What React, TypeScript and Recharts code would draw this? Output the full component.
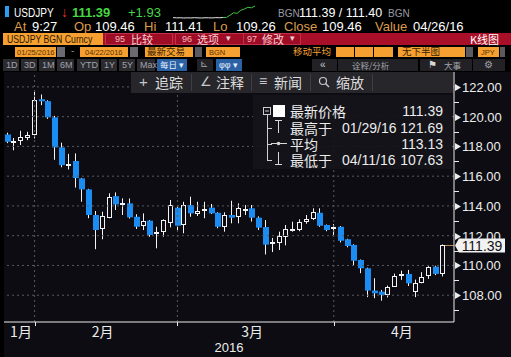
import React from 'react';
import { ComposedChart, Bar, XAxis, YAxis, ReferenceLine, LineChart, Line } from 'recharts';

// daily USDJPY candles, 01/25/2016 - 04/22/2016
const dates = [
    '01/25', '01/26', '01/27', '01/28', '01/29',
    '02/01', '02/02', '02/03', '02/04', '02/05', '02/08', '02/09', '02/10', '02/11', '02/12',
    '02/15', '02/16', '02/17', '02/18', '02/19', '02/22', '02/23', '02/24', '02/25', '02/26', '02/29',
    '03/01', '03/02', '03/03', '03/04', '03/07', '03/08', '03/09', '03/10', '03/11', '03/14', '03/15',
    '03/16', '03/17', '03/18', '03/21', '03/22', '03/23', '03/24', '03/25', '03/28', '03/29', '03/30', '03/31',
    '04/01', '04/04', '04/05', '04/06', '04/07', '04/08', '04/11', '04/12', '04/13', '04/14', '04/15',
    '04/18', '04/19', '04/20', '04/21', '04/22',
];
const opens = [
    118.80, 118.30, 118.38, 118.58, 118.80,
    121.17, 121.04, 119.95, 117.93, 116.78, 117.02, 115.85, 115.11, 113.39, 112.45,
    113.21, 114.66, 114.12, 114.17, 113.27, 112.67, 113.01, 112.11, 112.23, 112.85, 113.88,
    112.72, 114.06, 113.46, 113.68, 113.88, 113.54, 112.60, 113.39, 113.21, 113.74, 113.84,
    113.21, 112.58, 111.42, 111.45, 111.93, 112.42, 112.40, 112.87, 113.17, 113.54, 112.72, 112.43,
    112.60, 111.76, 111.38, 110.37, 109.81, 108.31, 108.24, 108.02, 108.58, 109.30, 109.43,
    108.24, 108.85, 109.25, 109.92, 109.46,
];
const highs = [
    118.92, 118.56, 119.05, 118.98, 121.69,
    121.49, 121.10, 120.05, 118.25, 117.50, 117.53, 115.88, 115.15, 113.66, 113.61,
    114.85, 114.91, 114.51, 114.50, 113.44, 113.50, 113.05, 112.60, 113.10, 114.40, 114.00,
    114.28, 114.62, 114.28, 114.28, 114.13, 113.58, 113.57, 114.35, 114.17, 114.06, 114.06,
    113.30, 113.05, 111.85, 112.27, 112.72, 112.94, 113.10, 113.39, 113.84, 113.84, 112.75, 112.78,
    112.65, 111.80, 111.42, 110.40, 109.85, 109.14, 108.35, 108.65, 109.45, 109.65, 109.70,
    109.05, 109.55, 109.95, 109.98, 111.41,
];
const lows = [
    118.22, 117.74, 118.09, 118.42, 118.54,
    120.77, 119.85, 117.10, 116.60, 116.45, 115.23, 114.28, 113.17, 111.09, 111.76,
    113.17, 113.73, 113.39, 113.15, 112.45, 112.38, 111.93, 111.15, 111.93, 112.56, 112.38,
    112.16, 113.27, 113.32, 113.17, 113.45, 112.50, 112.27, 112.83, 112.83, 113.39, 112.95,
    112.38, 110.74, 110.90, 111.04, 111.35, 112.27, 112.30, 112.80, 113.05, 112.60, 112.30, 112.05,
    111.55, 111.22, 109.97, 109.48, 107.87, 107.80, 107.63, 107.85, 108.55, 109.03, 108.62,
    107.87, 108.80, 109.10, 109.35, 109.26,
];
const closes = [
    118.31, 118.36, 118.64, 118.80, 121.15,
    121.03, 119.95, 117.93, 116.74, 116.84, 115.87, 115.11, 113.39, 112.38, 113.32,
    114.62, 114.10, 114.20, 113.23, 112.60, 112.99, 112.05, 112.27, 113.05, 114.06, 112.67,
    114.06, 113.50, 113.68, 113.77, 113.50, 112.60, 113.39, 113.21, 113.84, 113.80, 113.21,
    112.54, 111.40, 111.56, 111.95, 112.45, 112.47, 112.92, 113.10, 113.61, 112.67, 112.38, 112.56,
    111.66, 111.31, 110.32, 109.81, 108.31, 108.13, 108.02, 108.58, 109.32, 109.43, 108.80,
    108.85, 109.25, 109.88, 109.43, 111.39,
];

const yTicks = [107, 108, 109, 110, 111, 112, 113, 114, 115, 116, 117, 118, 119, 120, 121, 122];
const gridValues = [108, 110, 112, 114, 116, 118, 120, 122];
const monthEnds = ['01/29', '02/29', '03/31'];
const labelDates = ['01/27', '02/12', '03/15', '04/14'];
const monthLabels = ['1月', '2月', '3月', '4月'];
const lastPrice = 111.39;

// intraday sparkline in the header
const sparkFlat = [109.50, 109.46, 109.48, 109.44, 109.47, 109.45, 109.49, 109.46, 109.44, 109.48, 109.47, 109.45, 109.50, 109.48, 109.52];
const sparkRise = [109.52, 109.9, 110.3, 110.2, 110.7, 110.9, 111.2, 111.1, 111.4];

const legendRows = [
    { name: '最新价格', date: '', value: '111.39' },
    { name: '最高于', date: '01/29/16', value: '121.69' },
    { name: '平均', date: '', value: '113.13' },
    { name: '最低于', date: '04/11/16', value: '107.63' },
];

const data = dates.map((date, i) => ({
    date,
    open: opens[i],
    high: highs[i],
    low: lows[i],
    close: closes[i],
    range: [lows[i], highs[i]],
}));

const sparkData = [
    ...sparkFlat.map(v => ({ w: v, g: null as number | null })),
    ...sparkRise.map(v => ({ w: null as number | null, g: v })),
];
sparkData[sparkFlat.length - 1].g = sparkFlat[sparkFlat.length - 1];

const W = 511;
const H = 357;
const BLUE = '#1b8cf2';
const GRID = '#5a5a62';
const AXIS = '#ececec';
const ORANGE = '#f5a030';
const TAN = '#dc9c4c';
const SANS = '"Liberation Sans", Arial, sans-serif';
const CJK = '"Noto Sans CJK SC", "Liberation Sans", sans-serif';

function Candle(props: any) {
    const { x, y, width, height, payload } = props;
    if (!payload || height == null) return null;
    const { open, close, high, low } = payload;
    const k = height / (high - low);
    const py = (v: number) => y + (high - v) * k;
    const c = Math.floor(x + width / 2);
    const top = py(Math.max(open, close));
    const bot = py(Math.min(open, close));
    const up = close >= open;
    return (
        <g>
            <line x1={c + 0.5} x2={c + 0.5} y1={y} y2={y + height} stroke="#f4f4f4" strokeWidth={1} />
            {up ? (
                <rect x={c - 1.5} y={Math.round(top) + 0.5} width={4} height={Math.max(1, Math.round(bot - top) - 1)}
                    fill="#0c0c12" stroke="#f4f4f4" strokeWidth={1} />
            ) : (
                <rect x={c - 2} y={top} width={6} height={Math.max(1.5, bot - top)} fill={BLUE} />
            )}
        </g>
    );
}

function PriceTick(props: any) {
    const { x, y, payload } = props;
    const v = payload.value as number;
    const yy = Math.round(y) + 0.5;
    if (v % 2 !== 0) return <line x1={x} x2={x + 5} y1={yy} y2={yy} stroke={AXIS} />;
    return (
        <g>
            <path d={`M${x + 1},${yy - 3.5} L${x + 7},${yy} L${x + 1},${yy + 3.5} Z`} fill={AXIS} />
            <text x={x + 8} y={yy} dy="0.36em" fill={AXIS} fontSize={13} fontFamily={SANS}>{v.toFixed(2)}</text>
        </g>
    );
}

function MonthTick(props: any) {
    const { x, y, payload } = props;
    const xx = Math.round(x) + 0.5;
    if (monthEnds.includes(payload.value)) {
        return <line x1={xx} x2={xx} y1={y} y2={y + 4} stroke={AXIS} />;
    }
    const label = monthLabels[labelDates.indexOf(payload.value)];
    return <text x={x} y={y + 15} textAnchor="middle" fill={AXIS} fontSize={14} fontFamily={CJK}>{label}</text>;
}

function PriceFlag(props: any) {
    const { x1, x2, y1 } = props;
    const r = Math.max(x1, x2);
    const y = Math.round(y1) + 0.5;
    return (
        <g>
            <line x1={r - 9} x2={r} y1={y} y2={y} stroke="#b88a55" />
            <path d={`M${r + 1},${y} L${r + 5},${y - 7} L${r + 51},${y - 7} L${r + 51},${y + 7} L${r + 5},${y + 7} Z`}
                fill="#f2f2f2" />
            <text x={r + 28} y={y} dy="0.36em" textAnchor="middle" fill="#111" fontSize={14} fontFamily={SANS}>
                {lastPrice.toFixed(2)}
            </text>
        </g>
    );
}

type TxtProps = { x: number; y: number; s?: number; c?: string; f?: string; b?: boolean; sx?: number; children: React.ReactNode };
const Txt = ({ x, y, s = 13, c = '#fff', f = SANS, b, sx, children }: TxtProps) => (
    <span style={{
        position: 'absolute', left: x, top: y, fontSize: s, color: c, fontFamily: f, fontWeight: b ? 700 : 400,
        lineHeight: 1, whiteSpace: 'nowrap', transform: sx ? `scaleX(${sx})` : undefined, transformOrigin: 'left',
    }}>{children}</span>
);

const Box = ({ x, y, w, h, bg, border }: { x: number; y: number; w: number; h: number; bg: string; border?: string }) => (
    <div style={{ position: 'absolute', left: x, top: y, width: w, height: h, background: bg, boxSizing: 'border-box', border: border ? `1px solid ${border}` : undefined }} />
);

function Header() {
    const btn = [['1D', 3, 16], ['3D', 21, 16], ['1M', 39, 16], ['6M', 57, 17], ['YTD', 77, 22], ['1Y', 101, 16], ['5Y', 119, 16], ['Max', 137, 18]] as const;
    return (
        <>
            {/* row 1 */}
            <Box x={5} y={6} w={4} h={11} bg="#2a9df4" />
            <Txt x={14} y={7} s={12} sx={0.84}>USDJPY</Txt>
            <Txt x={61} y={5} s={14} c="#e8322c">↓</Txt>
            <Txt x={72} y={6} s={13} b c="#46d646">111.39</Txt>
            <Txt x={128} y={6} s={13} c="#46d646">+1.93</Txt>
            <div style={{ position: 'absolute', left: 172, top: 5 }}>
                <LineChart width={84} height={14} data={sparkData} margin={{ top: 1, right: 1, bottom: 1, left: 1 }}>
                    <YAxis hide domain={['dataMin', 'dataMax']} />
                    <Line dataKey="w" stroke="#e8e8e8" dot={false} strokeWidth={1} isAnimationActive={false} />
                    <Line dataKey="g" stroke="#3cc83c" dot={false} strokeWidth={1} isAnimationActive={false} />
                </LineChart>
            </div>
            <Txt x={278} y={9} s={10} c="#9a9aa2">BGN</Txt>
            <Txt x={299} y={7} s={12.5}>111.39 / 111.40</Txt>
            <Txt x={388} y={9} s={10} c="#9a9aa2">BGN</Txt>

            {/* row 2 */}
            <Txt x={14} y={20} c={TAN}>At</Txt>
            <Txt x={32} y={20}>9:27</Txt>
            <Txt x={74} y={20} c={TAN}>Op</Txt>
            <Txt x={95} y={20}>109.46</Txt>
            <Txt x={144} y={20} c={TAN}>Hi</Txt>
            <Txt x={165} y={20}>111.41</Txt>
            <Txt x={213} y={20} c={TAN}>Lo</Txt>
            <Txt x={236} y={20}>109.26</Txt>
            <Txt x={284} y={20} c={TAN}>Close</Txt>
            <Txt x={322} y={20}>109.46</Txt>
            <Txt x={375} y={20} c={TAN}>Value</Txt>
            <Txt x={413} y={20}>04/26/16</Txt>

            {/* row 3 */}
            <Box x={3} y={33} w={100} h={12} bg={ORANGE} />
            <Txt x={7} y={34} s={11} c="#2a1600" sx={0.79}>USDJPY BGN Curncy</Txt>
            <Box x={103} y={33} w={408} h={12} bg="#a90f28" />
            <Box x={105} y={33} w={68} h={12} bg="#9e0d25" border="#c23048" />
            <Box x={175} y={33} w={78} h={12} bg="#9e0d25" border="#c23048" />
            <Box x={243} y={33} w={58} h={12} bg="#9e0d25" border="#c23048" />
            <Txt x={115} y={35} s={9} c="#f3b8c0">95</Txt>
            <Txt x={131} y={33.5} s={11} f={CJK} c="#f6d2d8">比较</Txt>
            <Txt x={182} y={35} s={9} c="#f3b8c0">96</Txt>
            <Txt x={197} y={33.5} s={11} f={CJK} c="#f6d2d8">选项</Txt>
            <Txt x={226} y={34} s={9} c="#f6d2d8">▾</Txt>
            <Txt x={247} y={35} s={9} c="#f3b8c0">97</Txt>
            <Txt x={262} y={33.5} s={11} f={CJK} c="#f6d2d8">修改</Txt>
            <Txt x={290} y={34} s={9} c="#f6d2d8">▾</Txt>
            <Txt x={470} y={33.5} s={11} f={CJK}>K线图</Txt>

            {/* row 4 */}
            <Box x={15} y={47} w={41} h={10} bg={ORANGE} />
            <Txt x={17} y={48.5} s={7.5} c="#5a3000">01/25/2016</Txt>
            <Box x={57} y={47} w={8} h={10} bg="#6a6a70" />
            <Txt x={71} y={46} s={10} c="#888">-</Txt>
            <Box x={80} y={47} w={48} h={10} bg={ORANGE} />
            <Txt x={85} y={48.5} s={7.5} c="#5a3000">04/22/2016</Txt>
            <Box x={130} y={47} w={8} h={10} bg="#6a6a70" />
            <Box x={145} y={47} w={48} h={10} bg={ORANGE} />
            <Txt x={147} y={47} s={9.5} f={CJK} c="#3a1e00">最新交易</Txt>
            <Box x={195} y={47} w={7} h={10} bg="#5a5a60" />
            <Box x={206} y={47} w={34} h={10} bg={ORANGE} />
            <Txt x={209} y={48.5} s={7.5} c="#5a3000">BGN</Txt>
            <Txt x={293} y={47} s={9.5} f={CJK} c={ORANGE}>移动平均</Txt>
            <Box x={336} y={47} w={18} h={10} bg={ORANGE} />
            <Box x={355} y={47} w={18} h={10} bg={ORANGE} />
            <Box x={374} y={47} w={19} h={10} bg={ORANGE} />
            <Box x={398} y={47} w={67} h={10} bg={ORANGE} />
            <Txt x={402} y={47} s={9.5} f={CJK} c="#3a1e00">无下半图</Txt>
            <Box x={466} y={47} w={7} h={10} bg="#5a5a60" />
            <Box x={478} y={47} w={21} h={10} bg={ORANGE} />
            <Txt x={481} y={48.5} s={7.5} c="#5a3000">JPY</Txt>
            <Box x={500} y={47} w={5} h={10} bg="#5a5a60" />

            {/* row 5 */}
            {btn.map(([t, x, w]) => (
                <React.Fragment key={t}>
                    <Box x={x} y={59} w={w} h={12} bg="#2a2a2f" />
                    <Txt x={x + 3} y={61} s={9} c="#a2a2aa">{t}</Txt>
                </React.Fragment>
            ))}
            <Box x={157} y={59} w={30} h={12} bg="#2b62a6" />
            <Txt x={160} y={60} s={8.5} f={CJK} c="#e6eefa">每日 ▾</Txt>
            <Box x={197} y={59} w={16} h={12} bg="#222226" />
            <Txt x={200} y={59} s={10} c="#a2a2aa">⊾</Txt>
            <Box x={216} y={59} w={26} h={12} bg="#2b62a6" />
            <Txt x={219} y={60.5} s={9} c="#e6eefa">φφ ▾</Txt>
            <Box x={312} y={59} w={25} h={12} bg="#222226" />
            <Txt x={320} y={59.5} s={10} c="#c8c8cc">«</Txt>
            <Box x={338} y={59} w={80} h={12} bg="#222226" />
            <Txt x={352} y={60.5} s={8.5} f={CJK} c="#a2a2aa">诠释/分析</Txt>
            <Box x={420} y={59} w={52} h={12} bg="#222226" />
            <Txt x={428} y={59.5} s={10} c="#d8d8d8">⚑</Txt>
            <Txt x={444} y={60.5} s={8.5} f={CJK} c="#a2a2aa">大事</Txt>
            <Box x={473} y={59} w={32} h={12} bg="#222226" />
            <Txt x={484} y={59.5} s={10} c="#a2a2aa">⚙</Txt>
        </>
    );
}

function Toolbar() {
    const seps = [191, 251, 310, 372];
    return (
        <>
            <Box x={131} y={72} w={322} h={21} bg="#26262b" />
            {seps.map(s => <Box key={s} x={s} y={74} w={1} h={17} bg="#3e3e44" />)}
            <Txt x={139} y={74} s={15} c="#c8c8cc">+</Txt>
            <Txt x={155} y={75} s={14} f={CJK} c="#dcdcdc">追踪</Txt>
            <Txt x={200} y={75} s={13} c="#c8c8cc">∠</Txt>
            <Txt x={216} y={75} s={14} f={CJK} c="#dcdcdc">注释</Txt>
            <Txt x={259} y={74} s={14} c="#c8c8cc">≡</Txt>
            <Txt x={274} y={75} s={14} f={CJK} c="#dcdcdc">新闻</Txt>
            <svg style={{ position: 'absolute', left: 318, top: 76 }} width={12} height={13}>
                <circle cx={5} cy={5} r={3.5} fill="none" stroke="#c8c8cc" strokeWidth={1.2} />
                <line x1={7.5} y1={7.5} x2={11} y2={11} stroke="#c8c8cc" strokeWidth={1.4} />
            </svg>
            <Txt x={336} y={75} s={14} f={CJK} c="#dcdcdc">缩放</Txt>
        </>
    );
}

function InfoPanel() {
    const rowY = [111, 127.5, 143.5, 159.5];
    return (
        <>
            <div style={{ position: 'absolute', left: 253, top: 95, width: 199, height: 74, background: 'rgba(20,20,25,0.94)' }} />
            <svg style={{ position: 'absolute', left: 253, top: 95 }} width={40} height={74}>
                <rect x={10.5} y={12.5} width={7} height={7} fill="none" stroke="#cfcfcf" />
                <line x1={12} x2={16} y1={16} y2={16} stroke="#cfcfcf" />
                <line x1={14.5} x2={14.5} y1={20} y2={65} stroke="#cfcfcf" />
                {rowY.slice(1).map(r => <line key={r} x1={14} x2={19} y1={Math.round(r - 95) + 0.5} y2={Math.round(r - 95) + 0.5} stroke="#cfcfcf" />)}
                <rect x={20} y={10} width={12} height={12} fill="#ffffff" />
                <line x1={22} x2={29} y1={25.5} y2={25.5} stroke="#d8d8d8" />
                <line x1={25.5} x2={25.5} y1={26} y2={38} stroke="#d8d8d8" />
                <line x1={18} x2={34} y1={48.5} y2={48.5} stroke="#d8d8d8" />
                <circle cx={25.5} cy={48.5} r={1.8} fill="#d8d8d8" />
                <line x1={25.5} x2={25.5} y1={57} y2={69} stroke="#d8d8d8" />
                <line x1={22} x2={29} y1={69.5} y2={69.5} stroke="#d8d8d8" />
            </svg>
            {legendRows.map((r, i) => (
                <React.Fragment key={r.name}>
                    <Txt x={290} y={rowY[i] - 7} s={14} f={CJK} c="#ececec">{r.name}</Txt>
                    {r.date && <Txt x={342} y={rowY[i] - 7} s={14} c="#ececec">{r.date}</Txt>}
                    <span style={{
                        position: 'absolute', left: 383, width: 60, top: rowY[i] - 7, textAlign: 'right',
                        fontSize: 14, lineHeight: 1, fontFamily: SANS, color: '#ececec',
                    }}>{r.value}</span>
                </React.Fragment>
            ))}
        </>
    );
}

export default function App() {
    return (
        <div style={{ position: 'fixed', left: 0, top: 0, width: W, height: H, background: '#000', overflow: 'hidden', fontFamily: SANS }}>
            <div style={{ position: 'absolute', left: 4, top: 72, width: W - 4, height: H - 72, background: '#0c0c12' }} />
            <div style={{ position: 'absolute', left: 0, top: 0 }}>
                <ComposedChart width={W} height={H} data={data} margin={{ top: 72, right: 0, bottom: 0, left: 4 }}>
                    <XAxis dataKey="date" ticks={[...monthEnds, ...labelDates]} interval={0} tickSize={0} tickMargin={0}
                        tickLine={false} axisLine={{ stroke: AXIS }} height={35} tick={<MonthTick />}
                        padding={{ left: 0, right: 8 }}
                        label={{ value: '2016', position: 'insideBottom', offset: 5, fill: AXIS, fontSize: 13, fontFamily: SANS }} />
                    <YAxis orientation="right" type="number" domain={[106.2, 123]} ticks={yTicks} interval={0} width={57}
                        tickSize={0} tickMargin={0} tickLine={false} axisLine={{ stroke: AXIS }} tick={<PriceTick />}
                        allowDataOverflow />
                    {gridValues.map(v => (
                        <ReferenceLine key={v} y={v} stroke={GRID} strokeDasharray="2 3" />
                    ))}
                    {monthEnds.map(d => (
                        <ReferenceLine key={d} x={d} stroke={GRID} strokeDasharray="2 3" />
                    ))}
                    <Bar dataKey="range" isAnimationActive={false} shape={(p: any) => <Candle {...p} />} />
                    <ReferenceLine y={lastPrice} ifOverflow="visible" shape={(p: any) => <PriceFlag {...p} />} />
                </ComposedChart>
            </div>
            <Header />
            <Toolbar />
            <InfoPanel />
        </div>
    );
}
